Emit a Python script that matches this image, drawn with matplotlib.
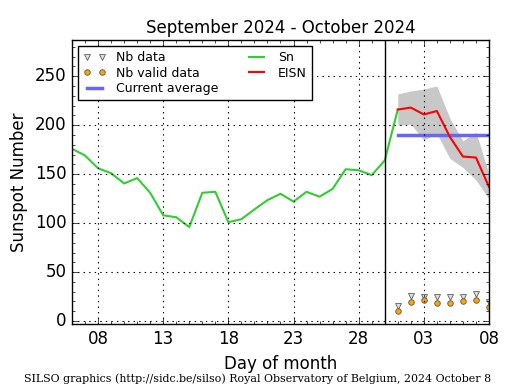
import numpy as np
import matplotlib.pyplot as plt
from matplotlib.ticker import MultipleLocator

# days counted from Sep 1 (Oct 1 = 31)
sn_days = np.arange(6, 32)
sn_vals = [176, 169, 156, 151, 140.5, 146, 131, 108, 106, 96, 131, 132, 101,
           104, 114, 123.5, 130, 122, 132, 127, 135, 155, 154, 149, 164, 216]

eisn_days = np.arange(31, 39)
eisn_vals = [216, 218, 211, 214.5, 188, 168, 167, 137]
eisn_hi = [232, 235, 237, 240, 207, 184, 193, 150]
eisn_lo = [200, 201, 185, 191.5, 166, 157, 144, 125]

nb_data = [15.5, 25.5, 25, 25, 25, 25, 27.5, 19.5]
nb_valid = [10.5, 19.5, 22, 18.5, 18, 20.5, 22, 14.5]

current_avg = 190

tick_days = [8, 13, 18, 23, 28, 33, 38]
tick_labels = ['08', '13', '18', '23', '28', '03', '08']

plt.style.use('classic')
fig = plt.figure(figsize=(5.15, 3.9), dpi=100)
ax = fig.add_axes([0.1398, 0.1692, 0.8097, 0.7282])

ax.fill_between(eisn_days, eisn_lo, eisn_hi, color='#c8c8c8', lw=0)
ax.plot(eisn_days, nb_data, 'v', color='#dddddd', mec='#444444', ms=4, label='Nb data')
ax.plot(eisn_days, nb_valid, 'o', color='orange', mec='#555555', ms=4, mew=0.6, label='Nb valid data')
ax.plot([31, 38], [current_avg, current_avg], color='#6666ff', lw=2.5, label='Current average')
ax.plot(sn_days, sn_vals, color='#33cc33', lw=1.5, label='Sn')
ax.plot(eisn_days, eisn_vals, color='red', lw=1.5, label='EISN')
ax.axvline(30, color='black', lw=1)

ax.set_xlim(6, 38)
ax.set_ylim(-3, 287)
ax.set_xticks(tick_days)
ax.set_xticklabels(tick_labels)
ax.xaxis.set_minor_locator(MultipleLocator(1))
ax.yaxis.set_major_locator(MultipleLocator(50))
ax.yaxis.set_minor_locator(MultipleLocator(10))
ax.grid(True, which='major', color='black', linestyle=':', lw=0.8)
ax.tick_params(labelsize=12)

ax.set_title('September 2024 - October 2024', fontsize=12)
ax.set_xlabel('Day of month', fontsize=12)
ax.set_ylabel('Sunspot Number', fontsize=12)

ax.legend(loc='upper left', ncol=2, numpoints=2, fontsize=9, handlelength=1.8,
          borderaxespad=0.5, columnspacing=2.2, labelspacing=0.2, fancybox=False)

fig.text(0.5, 0.02, 'SILSO graphics (http://sidc.be/silso) Royal Observatory of Belgium, 2024 October 8',
         ha='center', fontsize=7.9, family='DejaVu Serif')

fig.savefig('out.png', dpi=100, facecolor='white')
